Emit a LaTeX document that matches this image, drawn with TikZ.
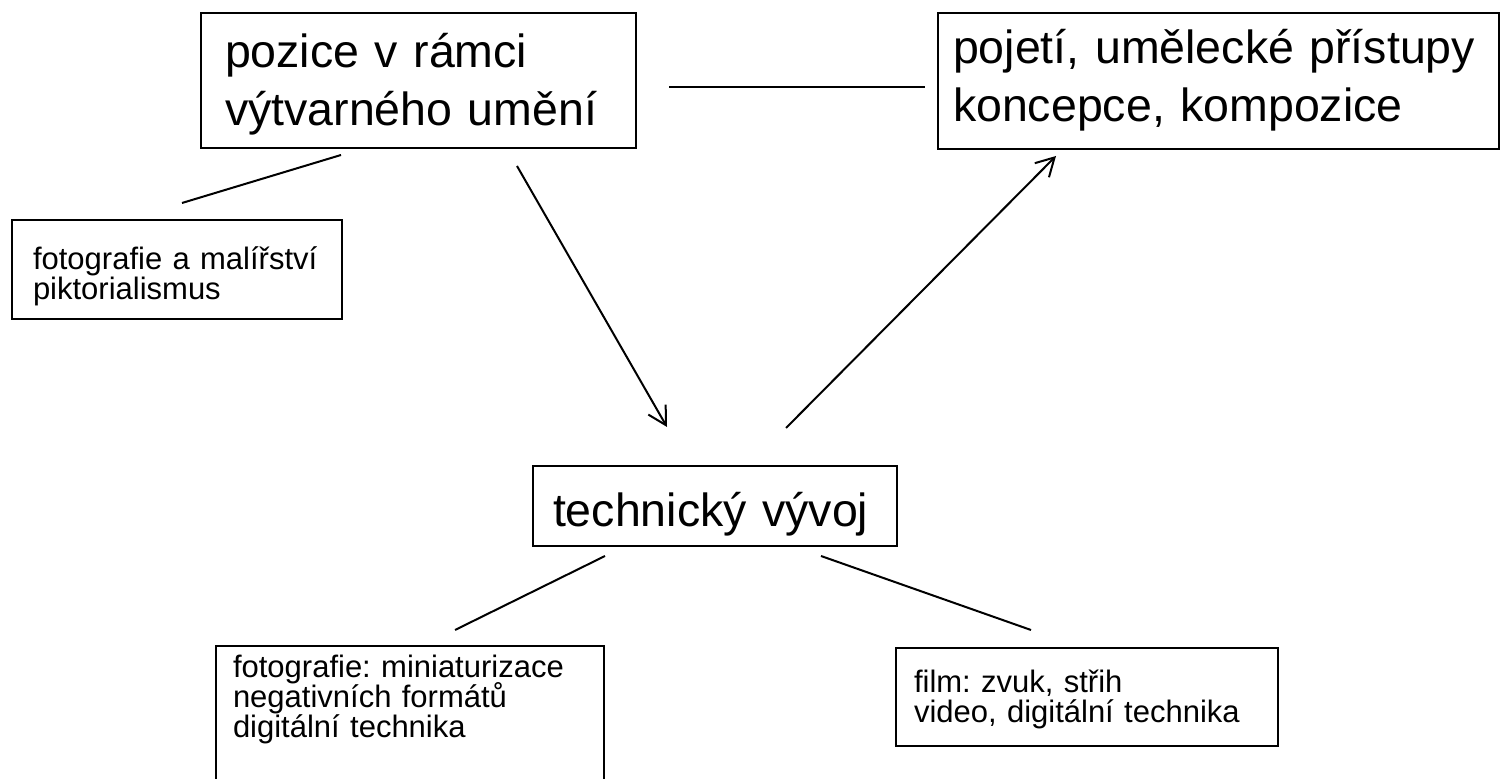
\documentclass[tikz,border=0pt]{standalone}
\usepackage{fontspec}
\setmainfont{Liberation Sans}
\usetikzlibrary{arrows.meta}
\frenchspacing
\newcommand\bigboxfont{\fontsize{23.25}{29}\selectfont\lineskiplimit=-20pt\relax}
\newcommand\smallboxfont{\fontsize{15.5}{15}\selectfont\lineskiplimit=-20pt\relax}
\tikzset{
  box/.style={draw, line width=1pt, rectangle, anchor=north west,
    align=left, inner ysep=0pt},
  bigbox/.style={box, font=\bigboxfont},
  smallbox/.style={box, font=\smallboxfont},
  link/.style={line width=1pt},
  arrowlink/.style={link, -{Straight Barb[length=9pt,width=10pt]}}
}
\begin{document}
\begin{tikzpicture}[x=0.5pt,y=-0.5pt]
      \useasboundingbox (0,0) rectangle (1500,779);
      % main topics
      \node[bigbox, inner xsep=12pt, text width=193.5pt,
        text height=27.5pt, text depth=40pt] (pozice) at (200,12)
        {\mbox{pozice v rámci}\\\mbox{výtvarného umění}};
      \node[bigbox, inner xsep=7.5pt, text width=265.5pt,
        text height=25.5pt, text depth=42.5pt] (pojeti) at (937,12)
        {\mbox{pojetí, umělecké přístupy}\\\mbox{koncepce, kompozice}};
      \node[bigbox, inner xsep=10pt, text width=162pt,
        text height=30.5pt, text depth=9.5pt] (vyvoj) at (532,465)
        {\mbox{technický vývoj}};
      % details
      \node[smallbox, inner xsep=10.5pt, text width=144pt,
        text height=25pt, text depth=24.5pt] (malba) at (11,219)
        {fotografie a malířství\\piktorialismus};
      \node[smallbox, inner xsep=8.5pt, text width=177pt,
        text height=16pt, text depth=54pt] (foto) at (215,645)
        {fotografie: miniaturizace\\negativních formátů\\digitální technika};
      \node[smallbox, inner xsep=9pt, text width=173pt,
        text height=22.5pt, text depth=26.5pt] (film) at (895,647)
        {film: zvuk, střih\\video, digitální technika};
      % connector ends
      \coordinate (pozice-e) at (669,87);
      \coordinate (pojeti-w) at (925,87);
      \coordinate (malba-n) at (182,203);
      \coordinate (pozice-sw) at (341,155);
      \coordinate (pozice-s) at (517,166);
      \coordinate (vyvoj-nw) at (667,427);
      \coordinate (vyvoj-ne) at (786,428);
      \coordinate (pojeti-s) at (1056,156);
      \coordinate (vyvoj-sw) at (605,556);
      \coordinate (foto-n) at (455,630);
      \coordinate (vyvoj-se) at (821,556);
      \coordinate (film-n) at (1031,630);
      \begin{scope}[link]
        \draw (pozice-e) to (pojeti-w);
        \draw (malba-n) to (pozice-sw);
        \draw (vyvoj-sw) to (foto-n);
        \draw (vyvoj-se) to (film-n);
      \end{scope}
      \begin{scope}[arrowlink]
        \draw (pozice-s) to (vyvoj-nw);
        \draw (vyvoj-ne) to (pojeti-s);
      \end{scope}
    \end{tikzpicture}
\end{document}
